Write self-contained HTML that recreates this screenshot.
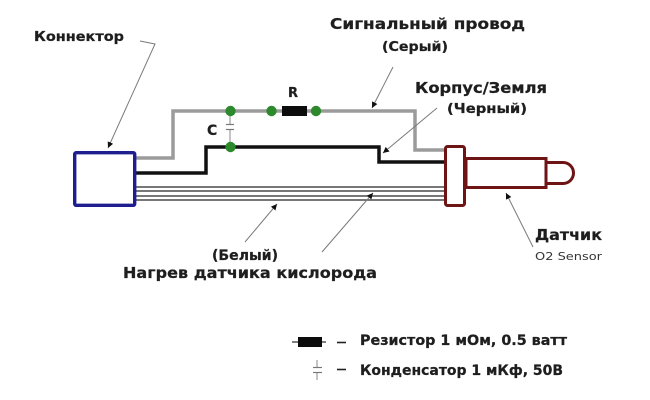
<!DOCTYPE html>
<html>
<head>
<meta charset="utf-8">
<style>
html,body{margin:0;padding:0;background:#fff;}
svg{display:block;}
text{font-family:"DejaVu Sans","Liberation Sans",sans-serif;font-weight:bold;fill:#1e1e1e;stroke:#1e1e1e;stroke-width:0.25;}
</style>
</head>
<body>
<svg width="650" height="400" viewBox="0 0 650 400" xmlns="http://www.w3.org/2000/svg">
<defs>
<marker id="ah" markerWidth="8" markerHeight="8" refX="6" refY="3" orient="auto" markerUnits="userSpaceOnUse">
<path d="M0,0 L6,3 L0,6 z" fill="#111"/>
</marker>
</defs>
<rect width="650" height="400" fill="#fff"/>

<!-- thin white wires -->
<g stroke="#4a4a4a" stroke-width="1.5">
<line x1="136" y1="187" x2="445" y2="187"/>
<line x1="136" y1="191" x2="445" y2="191"/>
<line x1="136" y1="196" x2="445" y2="196"/>
<line x1="136" y1="200" x2="445" y2="200"/>
</g>

<!-- gray signal wire -->
<path d="M136,158 H173 V111 H415 V150 H445" fill="none" stroke="#9b9b9b" stroke-width="3.5"/>
<!-- black ground wire -->
<path d="M136,173 H206 V147 H379 V162 H445" fill="none" stroke="#111" stroke-width="3.5"/>

<!-- capacitor C -->
<line x1="230" y1="111" x2="230" y2="147" stroke="#888" stroke-width="1"/>
<rect x="226" y="124" width="8" height="6" fill="#fff"/>
<line x1="226" y1="124.5" x2="234" y2="124.5" stroke="#777" stroke-width="1.2"/>
<line x1="226" y1="129.5" x2="234" y2="129.5" stroke="#777" stroke-width="1.2"/>

<!-- resistor -->
<rect x="282" y="106" width="25" height="10" fill="#0c0c0c"/>

<!-- green dots -->
<g fill="#2c8a2c">
<circle cx="230.5" cy="111" r="5.2"/>
<circle cx="230.5" cy="147" r="5.2"/>
<circle cx="271.5" cy="111" r="5.2"/>
<circle cx="316" cy="111" r="5.2"/>
</g>

<!-- connector box -->
<rect x="74.7" y="152.7" width="60" height="52.6" rx="1.5" fill="#fff" stroke="#1e1e8e" stroke-width="3.4"/>

<!-- sensor -->
<g fill="#fff" stroke="#6e1414" stroke-width="3">
<path d="M547,162.5 H563 A10.5,10.5 0 0 1 563,183.5 H547"/>
<rect x="466" y="158.5" width="80" height="29"/>
<rect x="445.5" y="146.5" width="19" height="59" rx="2"/>
</g>

<!-- leader lines -->
<g stroke="#7a7a7a" stroke-width="1" fill="none" marker-end="url(#ah)">
<path d="M140,41 L155,44 L108,148" />
<line x1="393" y1="67" x2="372" y2="108"/>
<line x1="437" y1="108" x2="383" y2="153"/>
<line x1="245" y1="242" x2="277" y2="204"/>
<line x1="322" y1="252" x2="373" y2="193"/>
<line x1="533" y1="247" x2="506" y2="193"/>
</g>

<!-- labels -->
<text x="34" y="41" font-size="13" textLength="90" lengthAdjust="spacingAndGlyphs">Коннектор</text>
<text x="330" y="29" font-size="15" textLength="195" lengthAdjust="spacingAndGlyphs">Сигнальный провод</text>
<text x="382" y="51" font-size="13" textLength="66" lengthAdjust="spacingAndGlyphs">(Серый)</text>
<text x="415" y="93" font-size="15" textLength="132" lengthAdjust="spacingAndGlyphs">Корпус/Земля</text>
<text x="447" y="113" font-size="13" textLength="80" lengthAdjust="spacingAndGlyphs">(Черный)</text>
<text x="288" y="97" font-size="13">R</text>
<text x="207" y="135" font-size="14">C</text>
<text x="212" y="260" font-size="14" textLength="66" lengthAdjust="spacingAndGlyphs">(Белый)</text>
<text x="123" y="278" font-size="15" textLength="254" lengthAdjust="spacingAndGlyphs">Нагрев датчика кислорода</text>
<text x="535" y="240" font-size="15" textLength="67" lengthAdjust="spacingAndGlyphs">Датчик</text>
<text x="535" y="260" font-size="11" textLength="67" lengthAdjust="spacingAndGlyphs" style="font-weight:normal;fill:#333;stroke:none">O2 Sensor</text>

<!-- legend -->
<line x1="292" y1="342" x2="326" y2="342" stroke="#333" stroke-width="1.2"/>
<rect x="298" y="337" width="24" height="10" fill="#0c0c0c"/>
<line x1="317" y1="360" x2="317" y2="380" stroke="#888" stroke-width="1"/>
<rect x="312" y="367" width="10" height="6" fill="#fff"/>
<line x1="313" y1="367.5" x2="322" y2="367.5" stroke="#777" stroke-width="1.2"/>
<line x1="313" y1="372.5" x2="322" y2="372.5" stroke="#777" stroke-width="1.2"/>
<line x1="337" y1="342.5" x2="346" y2="342.5" stroke="#222" stroke-width="1.6"/>
<line x1="337" y1="369.5" x2="346" y2="369.5" stroke="#222" stroke-width="1.6"/>
<text x="360" y="345" font-size="14" textLength="207" lengthAdjust="spacingAndGlyphs">Резистор 1 мОм, 0.5 ватт</text>
<text x="360" y="375" font-size="14" textLength="203" lengthAdjust="spacingAndGlyphs">Конденсатор 1 мКф, 50В</text>
</svg>
</body>
</html>
